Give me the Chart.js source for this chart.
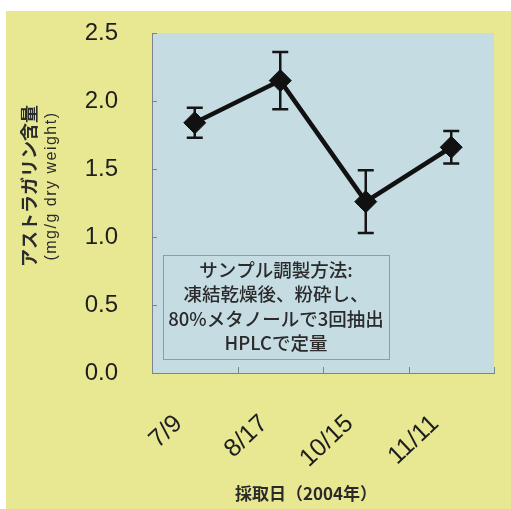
<!DOCTYPE html>
<html>
<head>
<meta charset="utf-8">
<script src="https://cdn.jsdelivr.net/npm/chart.js@4.4.1/dist/chart.umd.min.js"></script>
<style>
  html, body { margin: 0; padding: 0; background: #fff; }
</style>
</head>
<body>
<canvas id="astragalin" width="511" height="509"></canvas>
<script>
// sampling dates and astragalin content (mg/g dry weight)
const dates = ['7/9', '8/17', '10/15', '11/11'];
const content = [1.84, 2.15, 1.26, 1.66];
const errors = [0.11, 0.21, 0.23, 0.12];

const yTitle = ['アストラガリン含量', '(mg/g dry weight)'];
const xTitle = '採取日（2004年）';
const note = ['サンプル調製方法:', '凍結乾燥後、粉砕し、', '80%メタノールで3回抽出', 'HPLCで定量'];

const ink = '#1e1e1e';
const axisGray = '#7d8588';

// yellow page, white margin strips, blue plot area
const backdrop = {
  id: 'backdrop',
  beforeDraw(chart) {
    const { ctx, width, height, chartArea: a } = chart;
    ctx.save();
    ctx.fillStyle = '#ffffff';
    ctx.fillRect(0, 0, width, height);
    ctx.fillStyle = '#e8e893';
    ctx.fillRect(6, 11, width - 6, height - 11);
    ctx.fillStyle = '#c5dce3';
    ctx.fillRect(a.left, a.top, a.right - a.left, a.bottom - a.top);
    ctx.restore();
  }
};

// short ticks pointing into the plot
const innerTicks = {
  id: 'innerTicks',
  beforeDatasetsDraw(chart) {
    const { ctx, chartArea: a, scales: { x, y } } = chart;
    ctx.save();
    ctx.strokeStyle = axisGray;
    ctx.lineWidth = 1;
    ctx.beginPath();
    y.ticks.forEach(t => {
      const py = Math.round(y.getPixelForValue(t.value)) + 0.5;
      ctx.moveTo(a.left, py);
      ctx.lineTo(a.left + 5, py);
    });
    dates.forEach((d, i) => {
      const px = Math.round((x.getPixelForValue(i) + x.getPixelForValue(i + 1)) / 2) + 0.5;
      ctx.moveTo(px, a.bottom);
      ctx.lineTo(px, a.bottom - 6);
    });
    ctx.stroke();
    ctx.restore();
  }
};

const errorBars = {
  id: 'errorBars',
  beforeDatasetsDraw(chart) {
    const { ctx, scales: { x, y } } = chart;
    ctx.save();
    ctx.strokeStyle = '#151515';
    ctx.lineWidth = 2.5;
    content.forEach((v, i) => {
      const px = x.getPixelForValue(i);
      const top = y.getPixelForValue(v + errors[i]);
      const bot = y.getPixelForValue(v - errors[i]);
      ctx.beginPath();
      ctx.moveTo(px, top); ctx.lineTo(px, bot);
      ctx.moveTo(px - 8, top); ctx.lineTo(px + 8, top);
      ctx.moveTo(px - 8, bot); ctx.lineTo(px + 8, bot);
      ctx.stroke();
    });
    ctx.restore();
  }
};

const noteBox = {
  id: 'noteBox',
  afterDatasetsDraw(chart) {
    const { ctx, chartArea: a } = chart;
    const left = a.left + 11, top = a.top + 222, w = 226, h = 104;
    ctx.save();
    ctx.strokeStyle = '#8c9ea4';
    ctx.lineWidth = 1;
    ctx.strokeRect(left + 0.5, top + 0.5, w, h);
    ctx.fillStyle = '#2a2a2a';
    ctx.font = '500 18.5px "Noto Sans CJK JP"';
    ctx.textAlign = 'center';
    ctx.textBaseline = 'middle';
    note.forEach((line, i) => ctx.fillText(line, left + w / 2, top + 15 + i * 24.3));
    ctx.restore();
  }
};

const axisTitles = {
  id: 'axisTitles',
  afterDraw(chart) {
    const { ctx } = chart;
    ctx.save();
    ctx.fillStyle = '#2a2a2a';
    ctx.textAlign = 'center';
    ctx.textBaseline = 'middle';
    ctx.translate(29, 186);
    ctx.rotate(-Math.PI / 2);
    ctx.font = 'bold 18px "Noto Sans CJK JP"';
    ctx.fillText(yTitle[0], 0, 0);
    ctx.font = '16px "Liberation Sans"';
    ctx.letterSpacing = '1.5px';
    ctx.fillText(yTitle[1], 0, 23);
    ctx.restore();

    ctx.save();
    ctx.fillStyle = '#2a2a2a';
    ctx.textAlign = 'center';
    ctx.textBaseline = 'middle';
    ctx.font = 'bold 17px "Noto Sans CJK JP"';
    ctx.fillText(xTitle, 306, 494);
    ctx.restore();
  }
};

new Chart(document.getElementById('astragalin'), {
  type: 'line',
  data: {
    labels: dates,
    datasets: [{
      data: content,
      borderColor: '#111111',
      borderWidth: 4.5,
      pointStyle: 'rectRot',
      pointRadius: 11,
      pointBackgroundColor: '#111111',
      pointBorderColor: '#111111',
      pointBorderWidth: 1,
      tension: 0
    }]
  },
  options: {
    responsive: false,
    animation: false,
    layout: { padding: { top: 33, right: 17, left: 0, bottom: 0 } },
    plugins: {
      legend: { display: false },
      tooltip: { enabled: false }
    },
    scales: {
      x: {
        offset: true,
        grid: { display: false, drawTicks: false },
        border: { display: true, color: axisGray, width: 1 },
        ticks: {
          autoSkip: false,
          maxRotation: 43,
          minRotation: 43,
          padding: 36,
          labelOffset: -16,
          color: ink,
          font: { family: 'Liberation Sans', size: 25 }
        },
        afterFit(s) {
          s.height = 136;
          s.paddingLeft = 0;
          s.paddingRight = 0;
        }
      },
      y: {
        min: 0,
        max: 2.5,
        grid: { display: false, drawTicks: false },
        border: { display: true, color: axisGray, width: 1 },
        ticks: {
          stepSize: 0.5,
          padding: 34,
          color: ink,
          font: { family: 'Liberation Sans', size: 24 },
          callback: v => v.toFixed(1)
        },
        afterFit(s) {
          s.width = 152;
          s.paddingTop = 0;
          s.paddingBottom = 0;
        }
      }
    }
  },
  plugins: [backdrop, innerTicks, errorBars, noteBox, axisTitles]
});
</script>
</body>
</html>
